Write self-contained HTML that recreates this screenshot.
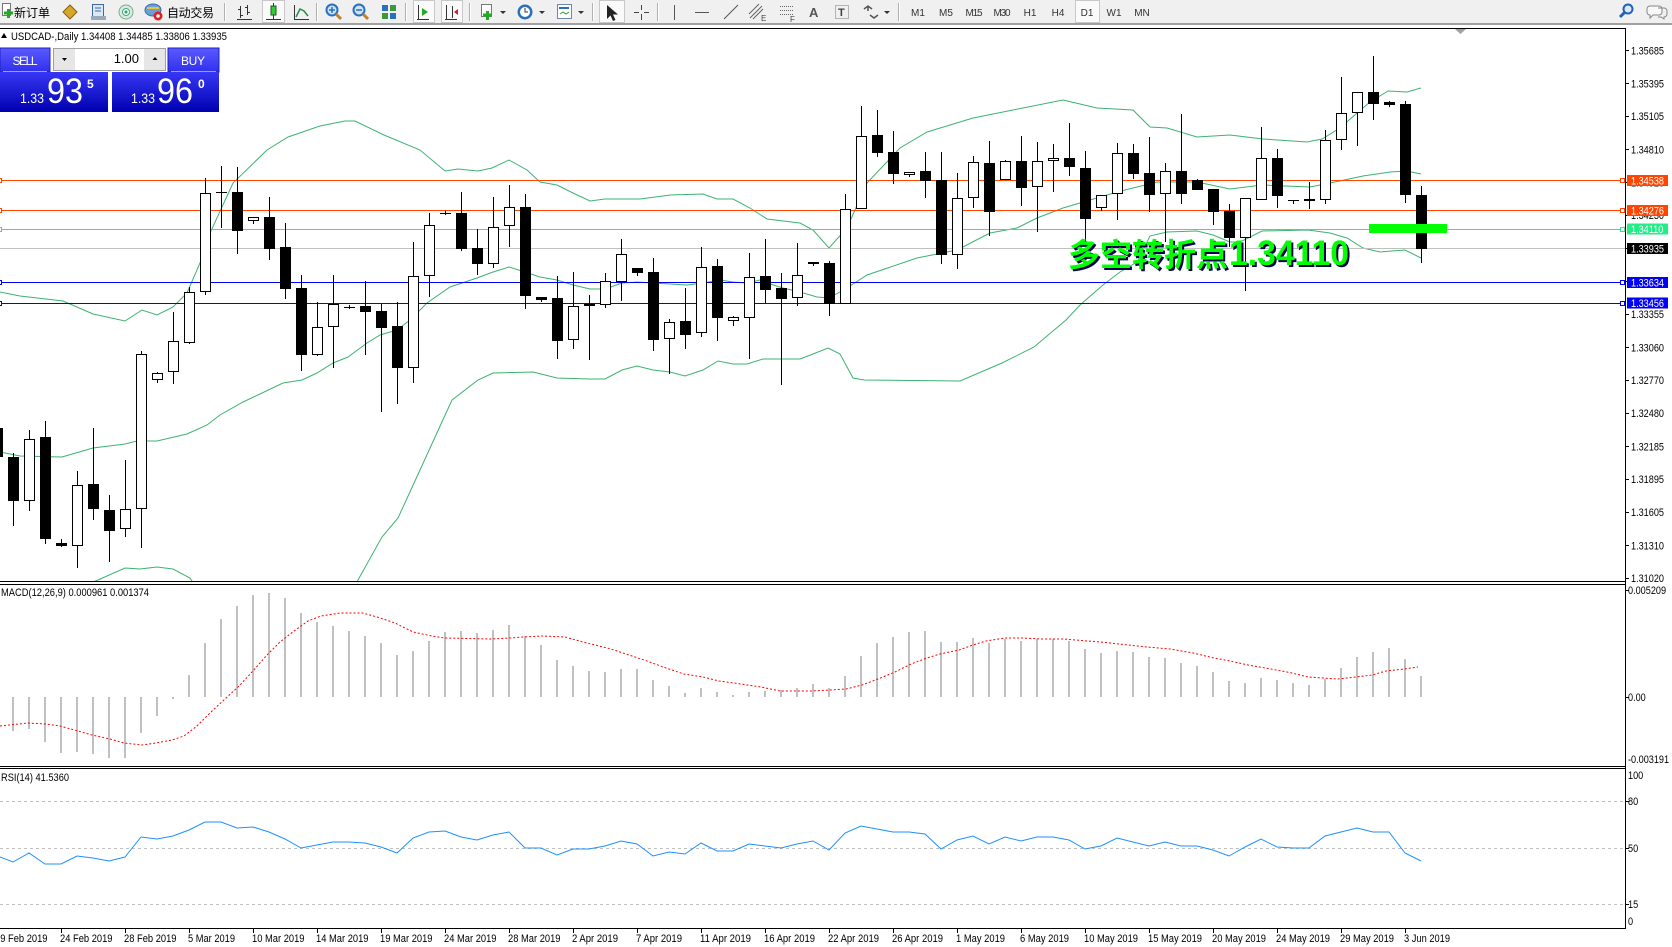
<!DOCTYPE html>
<html><head><meta charset="utf-8"><style>
html,body{margin:0;padding:0;background:#fff;overflow:hidden}
svg{display:block}
text{font-family:"Liberation Sans","Noto Sans CJK SC",sans-serif}
</style></head><body>
<svg width="1672" height="947" viewBox="0 0 1672 947" xmlns="http://www.w3.org/2000/svg">
<defs>
<linearGradient id="hdr" x1="0" y1="0" x2="0" y2="1"><stop offset="0" stop-color="#5a5aff"/><stop offset="1" stop-color="#3030ee"/></linearGradient>
<linearGradient id="big" x1="0" y1="0" x2="0" y2="1"><stop offset="0" stop-color="#3838f4"/><stop offset="1" stop-color="#0000b0"/></linearGradient>
<clipPath id="mc"><rect x="0" y="29" width="1625" height="552"/></clipPath>
</defs>
<rect width="1672" height="947" fill="#fff"/>

<!-- TOOLBAR -->
<rect x="0" y="0" width="1672" height="23" fill="#f0f0f0"/>
<rect x="0" y="23" width="1672" height="2" fill="#a0a0a0"/>
<rect x="2.5" y="3.5" width="8" height="12" fill="#fff" stroke="#777"/>
<path d="M4 13h9M8.5 9v9" stroke="#22aa22" stroke-width="3"/>
<text x="14" y="17" font-size="12" textLength="36" font-family="Noto Sans CJK SC,sans-serif">新订单</text>
<polygon points="63,12 70,5 77,12 70,19" fill="#d8a628" stroke="#8a6010"/>
<rect x="92.5" y="4.5" width="11" height="12" fill="#dde8f6" stroke="#3a68a8"/><path d="M95 8h6M95 11h6" stroke="#3a68a8"/><rect x="91" y="16" width="15" height="4" fill="#9ab"/>
<circle cx="126" cy="12" r="7" fill="#d8ecd8" stroke="#7a9"/><circle cx="126" cy="12" r="3.5" fill="#fff" stroke="#4a8"/><circle cx="126" cy="12" r="1.5" fill="#2a6"/>
<ellipse cx="153" cy="10" rx="8" ry="6" fill="#6aa0d8" stroke="#3a6aa0"/><path d="M147 8h12" stroke="#f0c040" stroke-width="2"/><circle cx="158" cy="16" r="4.5" fill="#e02020"/><circle cx="158" cy="16" r="1.8" fill="#fff"/>
<text x="167" y="17" font-size="12" textLength="47" font-family="Noto Sans CJK SC,sans-serif">自动交易</text>
<g stroke="#b0b0b0"><path d="M224.5 3v18M316.5 3v18M405.5 3v18M469.5 3v18M592.5 3v18M657.5 3v18M898.5 3v18" /></g>
<g stroke="#fff"><path d="M225.5 3v18M317.5 3v18M406.5 3v18M470.5 3v18M593.5 3v18M658.5 3v18M899.5 3v18"/></g>
<path d="M237 19.5h15M240.5 6v12M238 9.5h2M241 15.5h2M247.5 5v10M245 7.5h2M248 12.5h2" stroke="#333"/>
<rect x="262.5" y="0.5" width="22" height="22" fill="#fafafa" stroke="#c8c8c8"/>
<path d="M266 19.5h15M273.5 3v16" stroke="#333"/><rect x="271" y="6" width="5" height="9" fill="#33cc33" stroke="#225522"/>
<path d="M294 19.5h15M294.5 5v15" stroke="#333"/><polyline points="296,17 300,9 304,11 308,16" fill="none" stroke="#2a8a4a" stroke-width="1.5"/>
<circle cx="332" cy="10" r="5.5" fill="#cfe3f7" stroke="#2a70c0" stroke-width="2"/><path d="M329 10h6M332 7v6" stroke="#2a70c0" stroke-width="1.5"/><path d="M336 14l5 5" stroke="#c08030" stroke-width="3"/>
<circle cx="359" cy="10" r="5.5" fill="#cfe3f7" stroke="#2a70c0" stroke-width="2"/><path d="M356 10h6" stroke="#2a70c0" stroke-width="1.5"/><path d="M363 14l5 5" stroke="#c08030" stroke-width="3"/>
<rect x="382" y="5" width="6" height="6" fill="#2a70c0"/><rect x="390" y="5" width="6" height="6" fill="#3a9a3a"/><rect x="382" y="13" width="6" height="6" fill="#3a9a3a"/><rect x="390" y="13" width="6" height="6" fill="#2a70c0"/>
<rect x="413.5" y="0.5" width="21" height="22" fill="#fafafa" stroke="#c8c8c8"/><path d="M418.5 5v14M417 19.5h12" stroke="#333"/><polygon points="422,8 428,12 422,16" fill="#22aa22"/>
<rect x="441.5" y="0.5" width="21" height="22" fill="#fafafa" stroke="#c8c8c8"/><path d="M446.5 5v14M445 19.5h12M452.5 6v12" stroke="#333"/><polygon points="458,9 454,12 458,15" fill="#cc2222"/>
<rect x="481.5" y="4.5" width="10" height="12" fill="#fff" stroke="#777"/><path d="M483 15h9M487.5 11v9" stroke="#22aa22" stroke-width="3"/><polygon points="500,11 506,11 503,14" fill="#333"/>
<circle cx="525" cy="12" r="7.5" fill="#2a70c0"/><circle cx="525" cy="12" r="5" fill="#fff"/><path d="M525 8v4h3" stroke="#333" fill="none"/><polygon points="539,11 545,11 542,14" fill="#333"/>
<rect x="557.5" y="4.5" width="14" height="14" fill="#fff" stroke="#6a8ab0"/><path d="M559 8h10" stroke="#2a70c0" stroke-width="2"/><path d="M560 14l3-2 3 2 3-2" stroke="#3a9a3a" fill="none"/><polygon points="578,11 584,11 581,14" fill="#333"/>
<rect x="599.5" y="0.5" width="25" height="22" fill="#fafafa" stroke="#c8c8c8"/>
<polygon points="607,5 607,19 610.5,15.5 613,21 615.5,20 613,14.5 618,14.5" fill="#222"/>
<path d="M641.5 5v5M641.5 14v6M634 12.5h5M644 12.5h5" stroke="#444"/>
<path d="M674.5 5v15M695 12.5h14M724 19l14-14" stroke="#555"/>
<path d="M750 18l12-12M753 19l10-10M749 14l10-10" stroke="#666"/><text x="761" y="21" font-size="8" fill="#444">E</text>
<path d="M780 6.5h14M780 10.5h14M780 14.5h14" stroke="#666" stroke-dasharray="1 1"/><text x="790" y="22" font-size="8" fill="#444">F</text>
<text x="809" y="17" font-size="13" font-weight="bold" fill="#555">A</text>
<rect x="835.5" y="5.5" width="13" height="13" fill="none" stroke="#777" stroke-dasharray="1 1"/><text x="838" y="16" font-size="11" font-weight="bold" fill="#444">T</text>
<path d="M864 9l4-3 4 3M868 6v5M870 15l4 3 4-3" stroke="#555" fill="none" stroke-width="1.5"/><polygon points="884,11 890,11 887,14" fill="#333"/>
<rect x="1075.5" y="0.5" width="24" height="22" fill="#fafafa" stroke="#c8c8c8"/>
<g font-size="10" fill="#333" text-anchor="middle">
<text x="918" y="16">M1</text><text x="946" y="16">M5</text><text x="974" y="16" textLength="17">M15</text><text x="1002" y="16" textLength="17">M30</text><text x="1030" y="16">H1</text><text x="1058" y="16">H4</text><text x="1087" y="16">D1</text><text x="1114" y="16">W1</text><text x="1142" y="16">MN</text>
</g>
<circle cx="1628" cy="9" r="4.5" fill="#dbe9fa" stroke="#2060c0" stroke-width="2"/><path d="M1625 12l-5 5" stroke="#2060c0" stroke-width="3"/>
<path d="M1649 6h10a3 3 0 0 1 3 3v3a3 3 0 0 1-3 3h-6l-3 3v-3a3 3 0 0 1-3-3v-3a3 3 0 0 1 3-3z" fill="#f8f8f8" stroke="#888"/>
<path d="M1658 8h6a3 3 0 0 1 3 3v3a3 3 0 0 1-3 3v2l-3-2h-3" fill="none" stroke="#888"/>

<!-- FRAMES -->
<rect x="0" y="28" width="1626" height="1" fill="#000"/>
<polygon points="1455,29 1466,29 1460.5,34" fill="#a0a0a0"/>
<rect x="0" y="581" width="1626" height="1" fill="#000"/>
<rect x="0" y="584" width="1626" height="1" fill="#000"/>
<rect x="0" y="766" width="1626" height="1" fill="#000"/>
<rect x="0" y="768" width="1626" height="1" fill="#000"/>
<rect x="0" y="928" width="1626" height="1" fill="#000"/>
<rect x="1625" y="28" width="1" height="901" fill="#000"/>

<!-- MAIN CHART -->
<g clip-path="url(#mc)">
<g fill="none" stroke="#3cb371" stroke-width="1">
<polyline points="0,292 20,296 63,301 93,314 125,321 142,310 157,315 173,307 187,293 200,263 210,233 233,183 267,150 288,137 320,126 345,121 355,121 384,135 420,150 445,171 458,169 478,171 492,168 509,160 527,170 540,182 557,185 573,193 590,201 605,199 640,199 670,195 703,194 717,199 733,199 750,208 767,219 800,223 813,230 829,248 847,228 867,183 900,148 927,132 973,118 1013,110 1063,100 1097,108 1133,110 1150,127 1167,128 1197,137 1230,135 1263,139 1307,142 1322,139 1340,128 1357,113 1370,102 1388,91 1407,92 1421,88"/>
<polyline points="0,452 20,456 62,457 93,448 125,444 137,441 157,441 187,434 207,425 220,415 243,402 283,383 302,380 317,373 333,363 348,357 367,343 380,335 397,330 410,320 427,303 450,287 477,278 493,272 509,267 525,272 540,277 557,280 573,285 590,289 605,289 622,283 637,282 653,283 670,284 687,285 703,283 720,280 733,282 747,283 760,280 767,283 783,288 800,292 817,297 829,298 847,288 867,275 917,258 957,250 990,233 1017,228 1037,218 1063,208 1080,203 1117,192 1157,182 1197,182 1230,189 1262,185 1310,187 1330,183 1363,176 1390,172 1407,171 1421,174"/>
<polyline points="88,584 98,580 125,568 140,569 157,567 173,569 190,578 194,584"/>
<polyline points="356,584 358,580 382,537 398,518 420,470 452,400 478,380 493,373 533,372 557,378 590,379 605,379 622,370 637,366 653,370 670,372 685,376 703,370 718,361 733,364 747,364 763,359 800,359 813,354 828,348 840,354 853,378 864,380 960,381 1002,363 1034,347 1066,320 1080,305 1103,285 1120,272 1137,262 1150,236 1167,232 1197,231 1213,235 1230,242 1240,242 1262,231 1308,230 1330,233 1347,238 1363,248 1380,252 1405,250 1421,258"/>
</g>
<path d="M0 180.5H1622" stroke="#ff4500"/>
<path d="M0 210.5H1622" stroke="#ff4500"/>
<path d="M0 229.5H1622" stroke="#22ee88"/>
<path d="M0 248.5H1625" stroke="#c0c0c0"/>
<path d="M0 282.5H1622" stroke="#0000ff"/>
<path d="M0 303.5H1622" stroke="#0000ff"/>
<g fill="#fff">
<rect x="-2.5" y="178.5" width="4" height="4" stroke="#ff4500"/><rect x="1620.5" y="178.5" width="4" height="4" stroke="#ff4500"/>
<rect x="-2.5" y="208.5" width="4" height="4" stroke="#ff4500"/><rect x="1620.5" y="208.5" width="4" height="4" stroke="#ff4500"/>
<rect x="-2.5" y="227.5" width="4" height="4" stroke="#22ee88"/><rect x="1620.5" y="227.5" width="4" height="4" stroke="#22ee88"/>
<rect x="-2.5" y="280.5" width="4" height="4" stroke="#0000ff"/><rect x="1620.5" y="280.5" width="4" height="4" stroke="#0000ff"/>
<rect x="-2.5" y="301.5" width="4" height="4" stroke="#0000ff"/><rect x="1620.5" y="301.5" width="4" height="4" stroke="#0000ff"/>
</g>
<path stroke="#000" stroke-width="1" fill="none" d="M-2.5 420V468M13.5 453V526M29.5 430V511M45.5 421V544M61.5 539V547M77.5 471V568M93.5 428V520M109.5 495V562M125.5 460V537M141.5 351V548M157.5 372V383M173.5 312V384M189.5 287V344M205.5 178V295M221.5 166V228M237.5 167V254M253.5 217V224M269.5 197V260M285.5 223V299M301.5 275V371M317.5 302V356M333.5 275V368M349.5 305V309M365.5 281V355M381.5 304V412M397.5 302V404M413.5 242V383M429.5 213V297M445.5 211V215M461.5 192V251M477.5 229V275M493.5 197V268M509.5 185V247M525.5 194V309M541.5 297V302M557.5 276V359M573.5 272V349M589.5 295V360M605.5 273V308M621.5 239V301M637.5 268V276M653.5 258V351M669.5 319V374M685.5 288V349M701.5 247V337M717.5 259V341M733.5 316V326M749.5 253V359M765.5 239V303M781.5 273V385M797.5 243V306M813.5 262V266M829.5 261V316M845.5 194V304M861.5 106V209M877.5 110V157M893.5 131V184M909.5 172V177M925.5 152V198M941.5 152V264M957.5 173V269M973.5 156V208M989.5 141V236M1005.5 160V180M1021.5 136V206M1037.5 142V232M1053.5 144V192M1069.5 123V176M1085.5 151V243M1101.5 195V211M1117.5 143V220M1133.5 144V179M1149.5 137V212M1165.5 163V242M1181.5 114V204M1197.5 179V190M1213.5 189V225M1229.5 204V247M1245.5 198V291M1261.5 127V200M1277.5 149V208M1293.5 200V204M1309.5 182V209M1325.5 130V204M1341.5 77V150M1357.5 92V146M1373.5 56V120M1389.5 101V107M1405.5 101V203M1421.5 186V263"/>
<path stroke="#000" d="M216 192.5h11M344 307.5h11M440 213.5h11M1288 200.5h11"/>
<path fill="#000" stroke="#000" d="M-7.5 428.5h10v28h-10zM8.5 457.5h10v43h-10zM40.5 437.5h10v101h-10zM56.5 543.5h10v2h-10zM88.5 484.5h10v24h-10zM104.5 510.5h10v20h-10zM232.5 192.5h10v38h-10zM264.5 217.5h10v31h-10zM280.5 247.5h10v41h-10zM296.5 288.5h10v66h-10zM360.5 306.5h10v5h-10zM376.5 311.5h10v16h-10zM392.5 326.5h10v41h-10zM456.5 213.5h10v35h-10zM472.5 248.5h10v15h-10zM520.5 207.5h10v88h-10zM536.5 297.5h10v2h-10zM552.5 298.5h10v42h-10zM584.5 304.5h10v1h-10zM632.5 268.5h10v4h-10zM648.5 272.5h10v67h-10zM680.5 321.5h10v13h-10zM712.5 266.5h10v51h-10zM760.5 276.5h10v13h-10zM776.5 288.5h10v10h-10zM808.5 262.5h10v1h-10zM824.5 263.5h10v40h-10zM872.5 135.5h10v17h-10zM888.5 152.5h10v21h-10zM920.5 171.5h10v9h-10zM936.5 180.5h10v74h-10zM984.5 163.5h10v48h-10zM1016.5 161.5h10v26h-10zM1064.5 158.5h10v8h-10zM1080.5 168.5h10v50h-10zM1128.5 153.5h10v20h-10zM1144.5 173.5h10v21h-10zM1176.5 171.5h10v22h-10zM1192.5 180.5h10v9h-10zM1208.5 189.5h10v22h-10zM1224.5 211.5h10v26h-10zM1272.5 158.5h10v37h-10zM1304.5 199.5h10v1h-10zM1368.5 92.5h10v11h-10zM1384.5 102.5h10v2h-10zM1400.5 104.5h10v90h-10zM1416.5 195.5h10v53h-10z"/>
<path fill="#fff" stroke="#000" d="M24.5 439.5h10v61h-10zM72.5 485.5h10v60h-10zM120.5 509.5h10v19h-10zM136.5 354.5h10v154h-10zM152.5 373.5h10v6h-10zM168.5 341.5h10v30h-10zM184.5 292.5h10v50h-10zM200.5 193.5h10v98h-10zM248.5 217.5h10v3h-10zM312.5 327.5h10v27h-10zM328.5 304.5h10v22h-10zM408.5 276.5h10v91h-10zM424.5 225.5h10v50h-10zM488.5 227.5h10v36h-10zM504.5 207.5h10v18h-10zM568.5 306.5h10v33h-10zM600.5 281.5h10v23h-10zM616.5 254.5h10v27h-10zM664.5 322.5h10v16h-10zM696.5 267.5h10v65h-10zM728.5 317.5h10v3h-10zM744.5 277.5h10v40h-10zM792.5 275.5h10v22h-10zM840.5 209.5h10v94h-10zM856.5 136.5h10v72h-10zM904.5 172.5h10v2h-10zM952.5 198.5h10v56h-10zM968.5 162.5h10v35h-10zM1000.5 161.5h10v18h-10zM1032.5 161.5h10v25h-10zM1048.5 158.5h10v2h-10zM1096.5 195.5h10v12h-10zM1112.5 153.5h10v40h-10zM1160.5 171.5h10v22h-10zM1240.5 198.5h10v39h-10zM1256.5 158.5h10v41h-10zM1320.5 140.5h10v59h-10zM1336.5 113.5h10v26h-10zM1352.5 92.5h10v20h-10z"/>
</g>
<rect x="1369" y="224" width="78" height="9" fill="#00ff00"/>
<text x="1070" y="268" font-size="32" font-weight="bold" fill="#000050" textLength="160" lengthAdjust="spacingAndGlyphs" font-family="Noto Sans CJK SC,sans-serif">多空转折点</text>
<text x="1231" y="267" font-size="35" font-weight="bold" fill="#000050" textLength="120" lengthAdjust="spacingAndGlyphs">1.34110</text>
<text x="1068" y="266" font-size="32" font-weight="bold" fill="#00ff00" textLength="160" lengthAdjust="spacingAndGlyphs" font-family="Noto Sans CJK SC,sans-serif">多空转折点</text>
<text x="1229" y="265" font-size="35" font-weight="bold" fill="#00ff00" textLength="120" lengthAdjust="spacingAndGlyphs">1.34110</text>

<polygon points="1,38 7,38 4,33" fill="#000"/>
<text x="11" y="40" font-size="11" textLength="216" lengthAdjust="spacingAndGlyphs">USDCAD-,Daily  1.34408 1.34485 1.33806 1.33935</text>

<rect x="0" y="48" width="50" height="24" fill="url(#hdr)" stroke="#2020c0" stroke-width="1"/>
<path d="M3 71.5h44" stroke="#9a9aff"/>
<text x="25" y="65" font-size="12" fill="#fff" text-anchor="middle" textLength="25">SELL</text>
<rect x="53.5" y="48.5" width="112" height="22" fill="#fff" stroke="#a0a0a0"/>
<rect x="54" y="49" width="21" height="21" fill="#e6e6e6"/>
<rect x="144" y="49" width="21" height="21" fill="#e6e6e6"/>
<polygon points="62,58 67,58 64.5,61" fill="#000"/>
<polygon points="152.5,60 157.5,60 155,57" fill="#000"/>
<text x="139" y="63" font-size="13" text-anchor="end">1.00</text>
<rect x="168" y="48" width="51" height="24" fill="url(#hdr)" stroke="#2020c0" stroke-width="1"/>
<path d="M171 71.5h45" stroke="#9a9aff"/>
<text x="193" y="65" font-size="12" fill="#fff" text-anchor="middle" textLength="24">BUY</text>
<rect x="0" y="72" width="108" height="40" fill="url(#big)"/>
<rect x="112" y="72" width="107" height="40" fill="url(#big)"/>
<g fill="#fff">
<text x="20" y="103" font-size="14" textLength="24" lengthAdjust="spacingAndGlyphs">1.33</text>
<text x="47" y="103" font-size="35" textLength="36" lengthAdjust="spacingAndGlyphs">93</text>
<text x="87" y="88" font-size="12" font-weight="bold">5</text>
<text x="131" y="103" font-size="14" textLength="24" lengthAdjust="spacingAndGlyphs">1.33</text>
<text x="157" y="103" font-size="35" textLength="36" lengthAdjust="spacingAndGlyphs">96</text>
<text x="198" y="88" font-size="12" font-weight="bold">0</text>
</g>

<path stroke="#000" d="M1626 50.5h3M1626 83.5h3M1626 116.5h3M1626 149.5h3M1626 182.5h3M1626 215.5h3M1626 248.5h3M1626 281.5h3M1626 314.5h3M1626 347.5h3M1626 380.5h3M1626 413.5h3M1626 446.5h3M1626 479.5h3M1626 512.5h3M1626 545.5h3M1626 578.5h3M1626 590.5h3M1626 697.5h3M1626 801.5h3M1626 848.5h3M1626 904.5h3"/>
<g transform="translate(1631 0) scale(0.83 1)" font-size="11" fill="#000">
<text x="0" y="54.5">1.35685</text><text x="0" y="87.3">1.35395</text><text x="0" y="120">1.35105</text><text x="0" y="153.5">1.34810</text><text x="0" y="186.5">1.34520</text><text x="0" y="219">1.34230</text><text x="0" y="285">1.33645</text><text x="0" y="318">1.33355</text><text x="0" y="351.3">1.33060</text><text x="0" y="384">1.32770</text><text x="0" y="417">1.32480</text><text x="0" y="450.3">1.32185</text><text x="0" y="483">1.31895</text><text x="0" y="516">1.31605</text><text x="0" y="549.3">1.31310</text><text x="0" y="582">1.31020</text>
</g>
<rect x="1627" y="175" width="41" height="11" fill="#ff4500"/>
<rect x="1627" y="205" width="41" height="11" fill="#ff4500"/>
<rect x="1627" y="223.5" width="41" height="11" fill="#22ee88"/>
<rect x="1627" y="243" width="41" height="11" fill="#000"/>
<rect x="1627" y="277" width="41" height="11" fill="#0000ff"/>
<rect x="1627" y="297.5" width="41" height="11" fill="#0000ff"/>
<g transform="translate(1631 0) scale(0.83 1)" font-size="11" fill="#fff">
<text x="0" y="184.5">1.34538</text><text x="0" y="214.5">1.34276</text><text x="0" y="233">1.34110</text><text x="0" y="252.5">1.33935</text><text x="0" y="286.5">1.33634</text><text x="0" y="307">1.33456</text>
</g>

<path stroke="#c0c0c0" stroke-width="2" fill="none" d="M13 697V731M29 697V729M45 697V742M61 697V753M77 697V752M93 697V754M109 697V758M125 697V758M141 697V733M157 697V716M173 697V699M189 697V675M205 697V643M221 697V619M237 697V606M253 697V595M269 697V593M285 697V598M301 697V613M317 697V622M333 697V626M349 697V631M365 697V636M381 697V643M397 697V655M413 697V651M429 697V641M445 697V632M461 697V631M477 697V633M493 697V630M509 697V625M525 697V636M541 697V645M557 697V660M573 697V666M589 697V671M605 697V672M621 697V669M637 697V669M653 697V680M669 697V686M685 697V693M701 697V688M717 697V692M733 697V695M749 697V692M765 697V691M781 697V690M797 697V688M813 697V684M829 697V688M845 697V676M861 697V656M877 697V643M893 697V637M909 697V632M925 697V631M941 697V642M957 697V642M973 697V638M989 697V643M1005 697V639M1021 697V641M1037 697V639M1053 697V639M1069 697V641M1085 697V649M1101 697V653M1117 697V651M1133 697V652M1149 697V657M1165 697V658M1181 697V663M1197 697V666M1213 697V672M1229 697V681M1245 697V683M1261 697V678M1277 697V680M1293 697V683M1309 697V685M1325 697V679M1341 697V668M1357 697V657M1373 697V652M1389 697V648M1405 697V659M1421 697V676"/>
<polyline fill="none" stroke="#ff0000" stroke-width="1" stroke-dasharray="2 2" points="0,726 28,723 46,724 60,726 78,731 92,735 110,739 124,743 142,745 156,743 172,740 184,736 197,726 211,712 225,699 239,686 253,671 266,656 280,642 294,631 308,621 321,616 340,613 363,613 377,617 395,623 413,632 432,636 445,638 491,639 510,638 523,637 542,636 565,637 583,642 611,649 629,655 647,661 666,668 684,674 703,677 719,681 734,683 761,687 780,691 812,691 830,690 846,689 862,685 878,679 895,672 911,664 927,658 940,654 959,650 973,645 986,641 1005,638 1023,638 1041,639 1064,639 1087,641 1101,642 1119,644 1147,647 1170,649 1193,653 1214,658 1230,661 1248,665 1271,669 1292,673 1308,677 1338,679 1356,677 1372,675 1386,671 1404,669 1418,667"/>
<text x="1" y="596" font-size="11" textLength="148" lengthAdjust="spacingAndGlyphs">MACD(12,26,9) 0.000961 0.001374</text>
<g transform="translate(1628 0) scale(0.83 1)" font-size="11" fill="#000">
<text x="0" y="594">0.005209</text><text x="0" y="701">0.00</text><text x="0" y="763">-0.003191</text>
</g>

<path stroke="#c0c0c0" stroke-dasharray="3 3" d="M0 801.5H1625M0 848.5H1625M0 904.5H1625"/>
<polyline fill="none" stroke="#1e90ff" stroke-width="1" points="0,857 13,862 29,853 45,864 61,864 77,856 93,858 109,861 125,857 141,837 157,839 173,836 189,830 205,822 221,822 237,828 253,827 269,832 285,839 301,848 317,845 333,842 349,842 365,843 381,847 397,853 413,838 429,832 445,831 461,837 477,840 493,835 509,832 525,848 541,848 557,855 573,849 589,849 605,846 621,841 637,844 653,856 669,852 685,854 701,843 717,851 733,851 749,844 765,846 781,848 797,844 813,841 829,850 845,833 861,826 877,829 893,832 909,832 925,834 941,849 957,840 973,836 989,844 1005,837 1021,841 1037,837 1053,837 1069,840 1085,849 1101,846 1117,838 1133,842 1149,846 1165,842 1181,846 1197,846 1213,850 1229,856 1245,847 1261,839 1277,847 1293,848 1309,848 1325,836 1341,832 1357,828 1373,832 1389,832 1405,853 1421,861"/>
<text x="1" y="781" font-size="11" textLength="68" lengthAdjust="spacingAndGlyphs">RSI(14) 41.5360</text>
<g transform="translate(1628 0) scale(0.83 1)" font-size="11" fill="#000">
<text x="0" y="779">100</text><text x="0" y="805">80</text><text x="0" y="852">50</text><text x="0" y="908">15</text><text x="0" y="925">0</text>
</g>

<path stroke="#000" d="M61.5 929v4M125.5 929v4M189.5 929v4M253.5 929v4M317.5 929v4M381.5 929v4M445.5 929v4M509.5 929v4M573.5 929v4M637.5 929v4M701.5 929v4M765.5 929v4M829.5 929v4M893.5 929v4M957.5 929v4M1021.5 929v4M1085.5 929v4M1149.5 929v4M1213.5 929v4M1277.5 929v4M1341.5 929v4M1405.5 929v4"/>
<g font-size="11" fill="#000">
<text x="-5" y="942" textLength="52.5" lengthAdjust="spacingAndGlyphs">19 Feb 2019</text>
<text x="60" y="942" textLength="52.5" lengthAdjust="spacingAndGlyphs">24 Feb 2019</text>
<text x="124" y="942" textLength="52.5" lengthAdjust="spacingAndGlyphs">28 Feb 2019</text>
<text x="188" y="942" textLength="47" lengthAdjust="spacingAndGlyphs">5 Mar 2019</text>
<text x="252" y="942" textLength="52.5" lengthAdjust="spacingAndGlyphs">10 Mar 2019</text>
<text x="316" y="942" textLength="52.5" lengthAdjust="spacingAndGlyphs">14 Mar 2019</text>
<text x="380" y="942" textLength="52.5" lengthAdjust="spacingAndGlyphs">19 Mar 2019</text>
<text x="444" y="942" textLength="52.5" lengthAdjust="spacingAndGlyphs">24 Mar 2019</text>
<text x="508" y="942" textLength="52.5" lengthAdjust="spacingAndGlyphs">28 Mar 2019</text>
<text x="572" y="942" textLength="46" lengthAdjust="spacingAndGlyphs">2 Apr 2019</text>
<text x="636" y="942" textLength="46" lengthAdjust="spacingAndGlyphs">7 Apr 2019</text>
<text x="700" y="942" textLength="51" lengthAdjust="spacingAndGlyphs">11 Apr 2019</text>
<text x="764" y="942" textLength="51" lengthAdjust="spacingAndGlyphs">16 Apr 2019</text>
<text x="828" y="942" textLength="51" lengthAdjust="spacingAndGlyphs">22 Apr 2019</text>
<text x="892" y="942" textLength="51" lengthAdjust="spacingAndGlyphs">26 Apr 2019</text>
<text x="956" y="942" textLength="49" lengthAdjust="spacingAndGlyphs">1 May 2019</text>
<text x="1020" y="942" textLength="49" lengthAdjust="spacingAndGlyphs">6 May 2019</text>
<text x="1084" y="942" textLength="54" lengthAdjust="spacingAndGlyphs">10 May 2019</text>
<text x="1148" y="942" textLength="54" lengthAdjust="spacingAndGlyphs">15 May 2019</text>
<text x="1212" y="942" textLength="54" lengthAdjust="spacingAndGlyphs">20 May 2019</text>
<text x="1276" y="942" textLength="54" lengthAdjust="spacingAndGlyphs">24 May 2019</text>
<text x="1340" y="942" textLength="54" lengthAdjust="spacingAndGlyphs">29 May 2019</text>
<text x="1404" y="942" textLength="46" lengthAdjust="spacingAndGlyphs">3 Jun 2019</text>
</g>
</svg>
</body></html>
